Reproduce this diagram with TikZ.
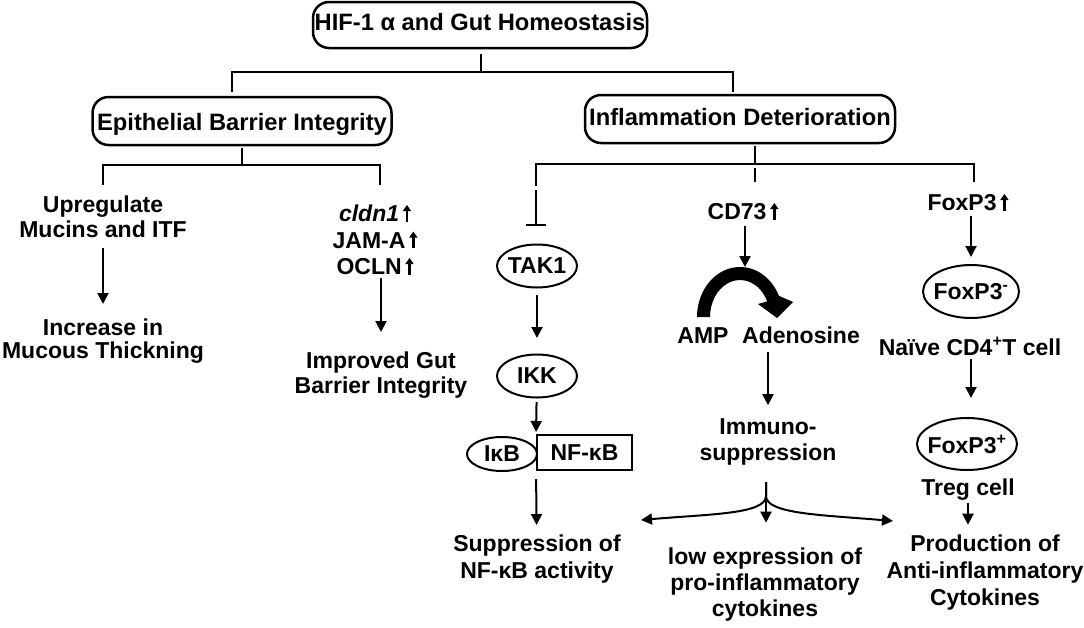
\documentclass[tikz,border=0pt]{standalone}
\usepackage{fontspec}
\setmainfont{Liberation Sans}
\usetikzlibrary{arrows.meta,shapes.geometric}
\newcommand{\uparr}{\tikz[baseline=0pt,x=1pt,y=1pt]\draw[line width=2.4pt,-{Triangle[length=6pt,width=8pt]}] (0,0)--(0,16.5);}
\tikzset{
  txt/.style={font=\fontsize{23}{#1}\selectfont\bfseries, align=center, inner sep=0pt},
  txt/.default=26,
  box/.style={draw, line width=2.5pt, rounded corners=16pt, font=\fontsize{23.7}{26}\selectfont\bfseries, inner sep=0pt},
  oval/.style={ellipse, draw, line width=2pt, font=\fontsize{23}{26}\selectfont\bfseries, inner sep=-15pt},
  tree/.style={line width=2pt},
  arr/.style={line width=2pt, -{Triangle[length=11pt,width=11pt]}},
}
\begin{document}
\begin{tikzpicture}[x=1pt,y=-1pt]
\useasboundingbox (0,0) rectangle (1084,627);
% boxes
\node[box, minimum width=334pt, minimum height=46pt, text height=16.5pt, text depth=5.1pt] (hif) at (480,25) {HIF-1 α and Gut Homeostasis};
\node[box, minimum width=299pt, minimum height=48pt, text height=18pt, text depth=0pt] (epi) at (242,121) {Epithelial Barrier Integrity};
\node[box, minimum width=310pt, minimum height=48pt, text height=16.5pt, text depth=3.5pt] (inf) at (740,119) {Inflammation Deterioration};
% left branch texts
\node[txt=25] (up) at (103,216.75) {Upregulate\\Mucins and ITF};
\node[txt=23] (inc) at (103,341.15) {Increase in\\Mucous Thickning};
\node[txt=26.5] (genes) at (375,239.75) {\textit{cldn1}\,\uparr\\JAM-A\,\uparr\\OCLN\,\uparr};
\node[txt=25] (imp) at (381,375.15) {Improved Gut\\Barrier Integrity};
% TAK1 column
\node[oval, minimum width=80pt, minimum height=43pt] (tak1) at (537,266) {TAK1};
\node[oval, minimum width=80pt, minimum height=43pt] (ikk) at (537,376) {IKK};
\node[oval, minimum width=70pt, minimum height=34pt] (ikb) at (502,454) {IκB};
\node[draw, line width=2pt, minimum width=95pt, minimum height=35pt, inner sep=0pt, font=\fontsize{23}{26}\selectfont\bfseries, text depth=0pt] (nfkb) at (584.5,452.5) {NF-κB};
\node[txt=27] (supp) at (537,559.15) {Suppression of\\NF-κB activity};
% CD73 column
\node[txt] (cd73) at (743,211.25) {CD73\,\uparr};
\node[txt] (amp) at (703,335.25) {AMP};
\node[txt] (ado) at (801,335.25) {Adenosine};
\node[txt=26] (imm) at (768,441.65) {Immuno-\\suppression};
\node[txt=26] (low) at (765,584.65) {low expression of\\pro-inflammatory\\cytokines};
% FoxP3 column
\node[txt] (foxup) at (968,202.25) {FoxP3\,\uparr};
\node[oval, minimum width=96pt, minimum height=53pt] (fneg) at (971,291.5) {FoxP3\textsuperscript{-}};
\node[txt] (naive) at (970,346.25) {Naïve CD4\textsuperscript{+}T cell};
\node[oval, minimum width=100pt, minimum height=52pt] (fpos) at (967,444) {FoxP3\textsuperscript{+}};
\node[txt] (treg) at (968,489.65) {Treg cell};
\node[txt=27] (prod) at (985,572.65) {Production of\\Anti-inflammatory\\Cytokines};
% tree lines
\coordinate (hm) at (481,72);
\coordinate (hl) at (232,92);
\coordinate (hr) at (733,92);
\draw[tree, shorten <=5pt] (hif.south -| hm) -- (hm);
\draw[tree] (hl) |- (hm) -| (hr);
\coordinate (em) at (242,165);
\coordinate (el) at (103,185);
\coordinate (er) at (380,185);
\draw[tree, shorten <=2pt] (epi.south) -- (em);
\draw[tree] (el) |- (em) -| (er);
\coordinate (im) at (755,164);
\coordinate (tl) at (536,186);
\coordinate (fr) at (974,182);
\draw[tree, shorten <=2pt] (inf.south -| im) -- (im);
\draw[tree] (tl) |- (im) -| (fr);
\draw[tree, shorten <=4pt, shorten >=20pt] (im) -- (im |- cd73.north);
\coordinate (tk) at (536,190);
\draw[tree, -{Bar[width=20pt]}, shorten >=17.5pt] (tk) -- (tk |- tak1.north);
% arrows
\draw[arr, shorten <=31.25pt, shorten >=37.15pt] (up.center) -- (inc.center);
\draw[arr, shorten <=2.5pt, shorten >=43.15pt] (genes.south -| imp) -- (imp.center);
\draw[arr, shorten <=29pt, shorten >=38pt] (tak1.center) -- (ikk.center);
\draw[arr, shorten <=26pt, shorten >=2pt] (ikk.center) -- (nfkb.north west);
\draw[arr, shorten <=8pt, shorten >=34.15pt] (nfkb.south west) -- (supp.center);
\coordinate (pk) at (745,267);
\draw[arr, shorten <=5pt] (cd73.south -| pk) -- (pk);
\draw[arr, shorten <=8.5pt, shorten >=13pt] (ado.south -| imm) -- (imm.north);
\coordinate (fk) at (766,482);
\coordinate (fl) at (641,520);
\coordinate (fr2) at (893,521);
\draw[arr, shorten >=25pt] (fk) -- (fk |- low.north);
\draw[arr] (fk) -- ++(0,14) .. controls +(0,18) and +(70,-6) .. (fl);
\draw[arr] (fk) -- ++(0,14) .. controls +(0,18) and +(-70,-6) .. (fr2);
\draw[arr, shorten <=4.5pt, shorten >=34.5pt] (foxup.south -| fneg) -- (fneg.center);
\draw[arr, shorten <=3.5pt, shorten >=46pt] (naive.south -| fneg) -- (fneg |- fpos);
\draw[arr, shorten <=2pt, shorten >=10pt] (treg.south) -- (treg.south |- prod.north);
% thick curved enzymatic arrow
\fill (697,317) arc[start angle=180, end angle=335, x radius=43, y radius=50]
  -- (793,302) -- (777,318) -- (758,304) -- (767.2,301.4)
  arc[start angle=335, end angle=180, x radius=30, y radius=37] -- cycle;
\end{tikzpicture}
\end{document}
